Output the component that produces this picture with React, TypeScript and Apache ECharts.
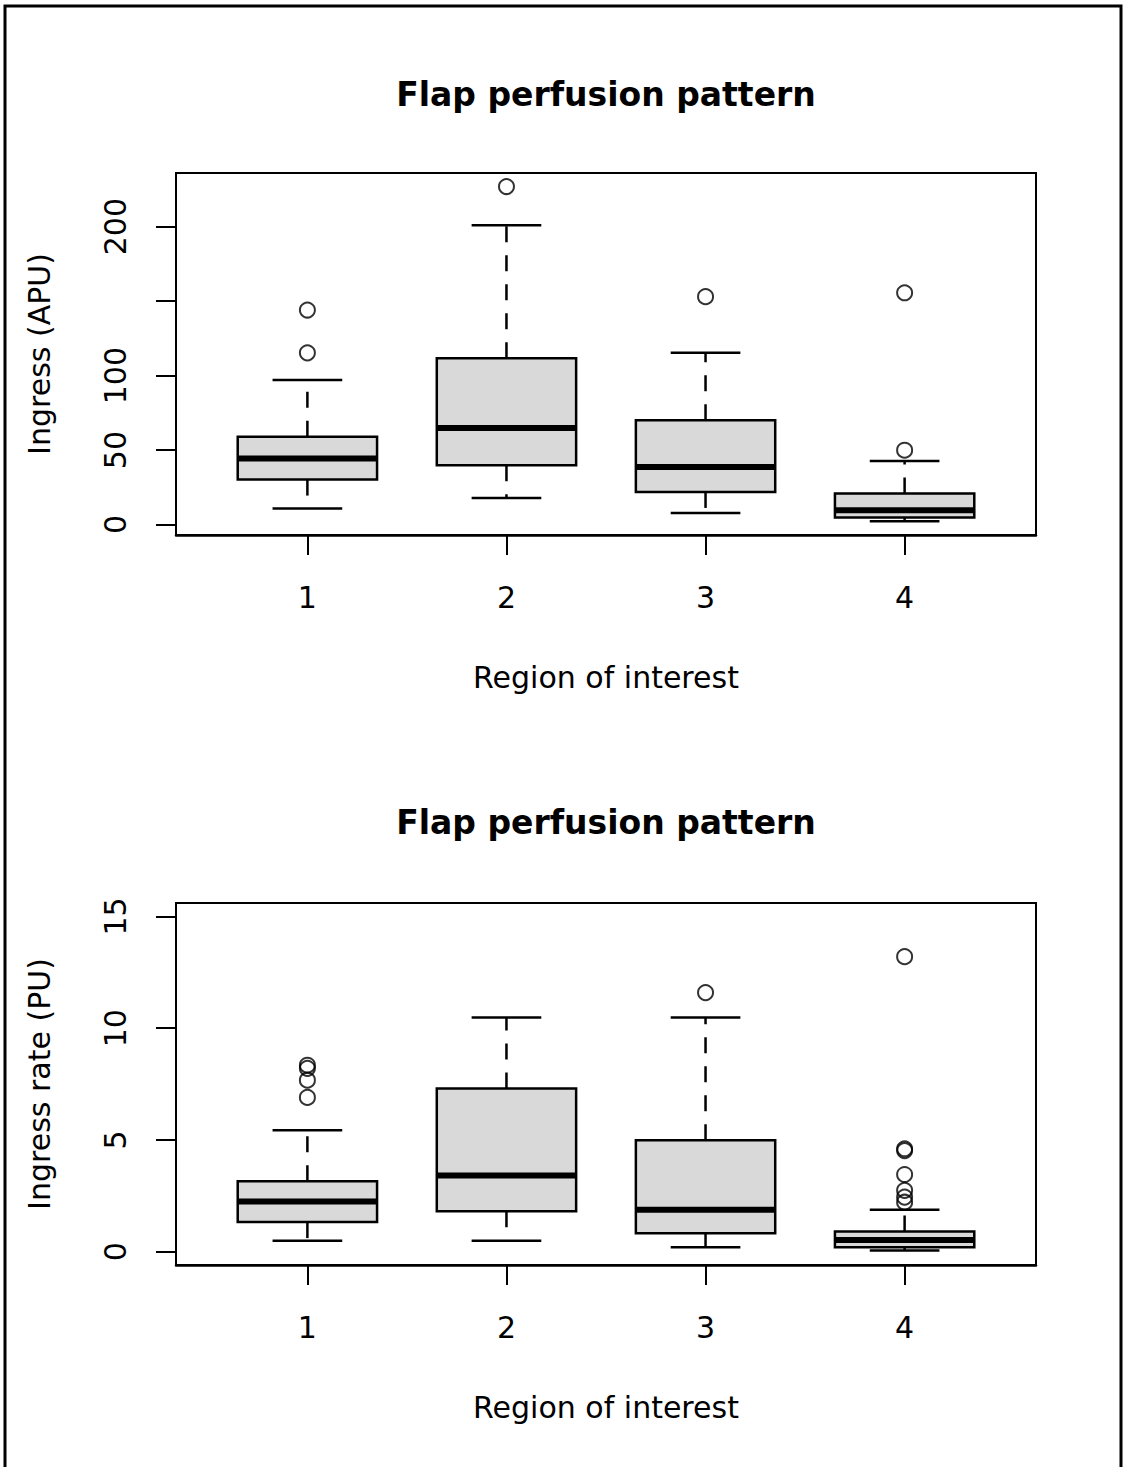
import React, { useEffect, useRef } from "react";
import * as echarts from "echarts";

// ---------- data ----------
const regions = [1, 2, 3, 4];
const xTickLabels = ["1", "2", "3", "4"];

// Plot 1: Ingress (APU)
const ingressLower = [10.8, 17.9, 7.8, 2.2];
const ingressQ1 = [30.2, 39.9, 21.9, 4.7];
const ingressMedian = [44.4, 64.9, 38.7, 9.6];
const ingressQ3 = [58.9, 111.6, 70.1, 20.8];
const ingressUpper = [97, 201, 115.3, 42.7];
const ingressOutliers = [
  [1, 144], [1, 115.3],
  [2, 226.9],
  [3, 153],
  [4, 155.6], [4, 49.9],
];
const ingressTicks = [0, 50, 100, 150, 200];
const ingressTickLabels = [0, 50, 100, 200];

// Plot 2: Ingress rate (PU)
const rateLower = [0.49, 0.49, 0.19, 0.05];
const rateQ1 = [1.32, 1.81, 0.82, 0.19];
const rateMedian = [2.24, 3.4, 1.87, 0.52];
const rateQ3 = [3.15, 7.3, 4.98, 0.9];
const rateUpper = [5.43, 10.48, 10.48, 1.87];
const rateOutliers = [
  [1, 8.34], [1, 8.2], [1, 7.67], [1, 6.9],
  [3, 11.59],
  [4, 13.2], [4, 4.6], [4, 4.52], [4, 3.45], [4, 2.74], [4, 2.44], [4, 2.21],
];
const rateTicks = [0, 5, 10, 15];

const FONT = "DejaVu Sans, Liberation Sans, Arial, sans-serif";

function boxData(lo: number[], q1: number[], med: number[], q3: number[], hi: number[]) {
  return regions.map((r, i) => [r, lo[i], q1[i], med[i], q3[i], hi[i]]);
}

function renderBox(params: any, api: any) {
  const x = api.value(0);
  const lo = api.coord([x, api.value(1)]);
  const q1 = api.coord([x, api.value(2)]);
  const med = api.coord([x, api.value(3)]);
  const q3 = api.coord([x, api.value(4)]);
  const hi = api.coord([x, api.value(5)]);
  const half = api.size([0.7, 0])[0] / 2;
  const cap = half / 2;
  const cx = lo[0];
  const lineStyle = { stroke: "#000", lineWidth: 2.5 };
  return {
    type: "group",
    children: [
      { type: "line", shape: { x1: cx, y1: q3[1], x2: cx, y2: hi[1] }, style: { ...lineStyle, lineDash: [16, 13] } },
      { type: "line", shape: { x1: cx, y1: q1[1], x2: cx, y2: lo[1] }, style: { ...lineStyle, lineDash: [16, 13] } },
      { type: "line", shape: { x1: cx - cap, y1: hi[1], x2: cx + cap, y2: hi[1] }, style: lineStyle },
      { type: "line", shape: { x1: cx - cap, y1: lo[1], x2: cx + cap, y2: lo[1] }, style: lineStyle },
      {
        type: "rect",
        shape: { x: cx - half, y: q3[1], width: half * 2, height: q1[1] - q3[1] },
        style: { fill: "#d9d9d9", stroke: "#000", lineWidth: 2.5 },
      },
      { type: "line", shape: { x1: cx - half, y1: med[1], x2: cx + half, y2: med[1] }, style: { stroke: "#000", lineWidth: 6 } },
    ],
  };
}

function xAxisFor(gridIndex: number) {
  return {
    type: "value",
    gridIndex,
    min: 0.34,
    max: 4.66,
    splitLine: { show: false },
    axisLine: { show: true, onZero: false, lineStyle: { color: "#000", width: 2.5 } },
    axisTick: { show: true, customValues: regions, length: 20, lineStyle: { color: "#000", width: 2 } },
    axisLabel: {
      customValues: regions,
      formatter: (v: number) => xTickLabels[regions.indexOf(v)] ?? "",
      fontSize: 30,
      color: "#000",
      fontFamily: FONT,
      margin: 47,
    },
    name: "Region of interest",
    nameLocation: "middle",
    nameGap: 127,
    nameTextStyle: { fontSize: 30, color: "#000", fontFamily: FONT },
  };
}

function yAxisFor(gridIndex: number, min: number, max: number, ticks: number[], labels: number[], name: string) {
  return {
    type: "value",
    gridIndex,
    min,
    max,
    splitLine: { show: false },
    axisLine: { show: true, onZero: false, lineStyle: { color: "#000", width: 2 } },
    axisTick: { show: true, customValues: ticks, length: 20, lineStyle: { color: "#000", width: 2 } },
    axisLabel: {
      customValues: labels,
      rotate: 90,
      fontSize: 30,
      color: "#000",
      fontFamily: FONT,
      margin: 46,
    },
    name,
    nameLocation: "middle",
    nameGap: 122,
    nameTextStyle: { fontSize: 30, color: "#000", fontFamily: FONT },
  };
}

function titleText(y: number) {
  return {
    type: "text",
    x: 606,
    y,
    style: {
      text: "Flap perfusion pattern",
      fontSize: 33,
      fontWeight: "bold",
      fontFamily: FONT,
      fill: "#000",
      textAlign: "center",
      textVerticalAlign: "middle",
    },
  };
}

export default function App() {
  const ref = useRef<HTMLDivElement>(null);
  useEffect(() => {
    if (!ref.current) return;
    const chart = echarts.init(ref.current, null, { renderer: "svg" });
    chart.setOption({
      animation: false,
      backgroundColor: "#fff",
      graphic: [
        {
          type: "rect",
          shape: { x: 5, y: 6, width: 1116, height: 1470 },
          style: { fill: "none", stroke: "#000", lineWidth: 3 },
          silent: true,
        },
        titleText(94),
        titleText(822),
      ],
      grid: [
        { left: 176, top: 173, width: 860, height: 362, show: true, borderColor: "#000", borderWidth: 2, backgroundColor: "transparent" },
        { left: 176, top: 903, width: 860, height: 362, show: true, borderColor: "#000", borderWidth: 2, backgroundColor: "transparent" },
      ],
      xAxis: [xAxisFor(0), xAxisFor(1)],
      yAxis: [
        yAxisFor(0, -7, 236, ingressTicks, ingressTickLabels, "Ingress (APU)"),
        yAxisFor(1, -0.6, 15.6, rateTicks, rateTicks, "Ingress rate (PU)"),
      ],
      series: [
        {
          type: "custom",
          xAxisIndex: 0,
          yAxisIndex: 0,
          renderItem: renderBox,
          encode: { x: 0, y: [1, 2, 3, 4, 5] },
          data: boxData(ingressLower, ingressQ1, ingressMedian, ingressQ3, ingressUpper),
        },
        {
          type: "scatter",
          xAxisIndex: 0,
          yAxisIndex: 0,
          symbol: "circle",
          symbolSize: 15,
          itemStyle: { color: "transparent", borderColor: "#000", borderWidth: 2 },
          data: ingressOutliers,
        },
        {
          type: "custom",
          xAxisIndex: 1,
          yAxisIndex: 1,
          renderItem: renderBox,
          encode: { x: 0, y: [1, 2, 3, 4, 5] },
          data: boxData(rateLower, rateQ1, rateMedian, rateQ3, rateUpper),
        },
        {
          type: "scatter",
          xAxisIndex: 1,
          yAxisIndex: 1,
          symbol: "circle",
          symbolSize: 15,
          itemStyle: { color: "transparent", borderColor: "#000", borderWidth: 2 },
          data: rateOutliers,
        },
      ],
    });
    return () => chart.dispose();
  }, []);
  return (
    <div
      ref={ref}
      style={{ position: "absolute", left: 0, top: 0, width: 1129, height: 1467, background: "#fff" }}
    />
  );
}
